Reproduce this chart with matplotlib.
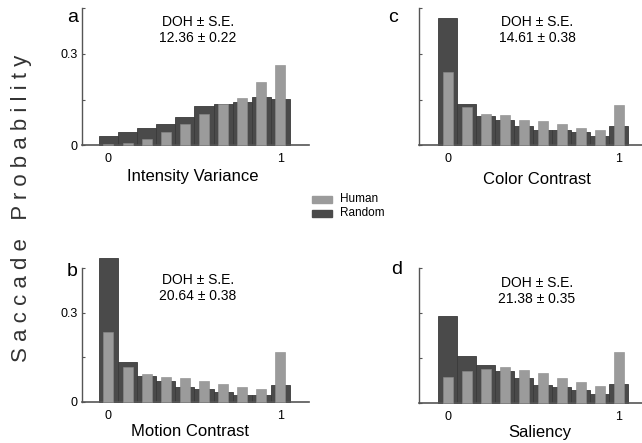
import numpy as np
import matplotlib
matplotlib.use("Agg")
import matplotlib.pyplot as plt

plt.rcParams["font.family"] = ["Liberation Sans", "DejaVu Sans"]

# bin centres (normalised feature value)
bins = np.linspace(0, 1, 10)

# saccade probability per bin, Human vs Random
intensity_human = [0.002, 0.007, 0.021, 0.042, 0.068, 0.103, 0.136, 0.154, 0.207, 0.263]
intensity_random = [0.031, 0.042, 0.056, 0.069, 0.091, 0.127, 0.135, 0.141, 0.158, 0.153]
color_human = [0.242, 0.124, 0.103, 0.099, 0.082, 0.078, 0.069, 0.056, 0.048, 0.133]
color_random = [0.419, 0.135, 0.096, 0.082, 0.064, 0.051, 0.048, 0.042, 0.030, 0.064]
motion_human = [0.236, 0.119, 0.095, 0.084, 0.079, 0.069, 0.059, 0.050, 0.043, 0.168]
motion_random = [0.482, 0.136, 0.088, 0.071, 0.052, 0.043, 0.032, 0.023, 0.023, 0.058]
saliency_human = [0.087, 0.106, 0.114, 0.120, 0.111, 0.100, 0.083, 0.070, 0.058, 0.169]
saliency_random = [0.289, 0.156, 0.128, 0.107, 0.084, 0.061, 0.053, 0.042, 0.031, 0.064]

panel_letters = ["a", "c", "b", "d"]
panel_xlabels = ["Intensity Variance", "Color Contrast", "Motion Contrast", "Saliency"]
panel_doh = ["12.36 \u00b1 0.22", "14.61 \u00b1 0.38", "20.64 \u00b1 0.38", "21.38 \u00b1 0.35"]

HUMAN = "#9b9b9b"
RANDOM = "#4a4a4a"

W, H = 642, 443
fig = plt.figure(figsize=(W / 100, H / 100), dpi=100)


def px(x, y):
    return x / W, 1 - y / H


def panel(rect, human, random, xlim, show_ylab):
    left, top, right, base = rect
    ax = fig.add_axes([left / W, 1 - base / H, (right - left) / W, (base - top) / H])
    ax.bar(bins, random, width=1 / 9, color=RANDOM, edgecolor="#3a3a3a",
           linewidth=0.6, clip_on=False, zorder=2)
    ax.bar(bins, human, width=0.058, color=HUMAN, edgecolor="#8a8a8a",
           linewidth=0.4, clip_on=False, zorder=3)
    ax.set_xlim(*xlim)
    ax.set_ylim(0, 0.45)
    for s in ("top", "right"):
        ax.spines[s].set_visible(False)
    ax.spines["left"].set_color("#555555")
    ax.spines["bottom"].set_color("#555555")
    ax.spines["left"].set_linewidth(1.0)
    ax.spines["bottom"].set_linewidth(1.2)
    ax.set_xticks([0, 1])
    ax.set_xticklabels(["0", "1"], fontsize=9)
    ax.tick_params(axis="x", length=0, pad=6)
    ax.set_yticks([0, 0.15, 0.3, 0.45])
    if show_ylab:
        ax.set_yticklabels(["0", "", "0.3", ""], fontsize=9)
    else:
        ax.set_yticklabels([])
    ax.tick_params(axis="y", direction="in", length=2.5, width=0.8,
                   color="#555555", pad=3)
    return ax


panel((82, 8.5, 309, 145), intensity_human, intensity_random, (-0.154, 1.166), True)
panel((419, 8.5, 642, 145), color_human, color_random, (-0.167, 1.137), False)
panel((82, 268, 309, 402), motion_human, motion_random, (-0.154, 1.166), True)
panel((419, 268, 642, 403), saliency_human, saliency_random, (-0.167, 1.137), False)

letter_pos = [(73, 17), (393, 18), (72, 272), (397, 270)]
doh_pos = [(198, 30), (537, 30), (198, 288), (537, 291)]
xlab_pos = [(193, 176), (537, 180), (190, 432), (540, 432)]
for i in range(4):
    fig.text(*px(*letter_pos[i]), panel_letters[i], fontsize=14,
             ha="center", va="center")
    fig.text(*px(*doh_pos[i]), "DOH \u00b1 S.E.\n" + panel_doh[i], fontsize=10,
             ha="center", va="center", linespacing=1.15)
    fig.text(*px(*xlab_pos[i]), panel_xlabels[i], fontsize=12,
             ha="center", va="center")

fig.text(*px(22, 208), " ".join("Saccade") + "   " + " ".join("Probability"),
         rotation=90, fontsize=16, ha="center", va="center", color="#333333")

# legend
fig.patches.append(plt.Rectangle(px(312, 203), 20 / W, 7 / H, color=HUMAN,
                                 transform=fig.transFigure))
fig.patches.append(plt.Rectangle(px(312, 217), 20 / W, 7 / H, color=RANDOM,
                                 transform=fig.transFigure))
fig.text(*px(340, 199), "Human", fontsize=8.5, va="center")
fig.text(*px(340, 213), "Random", fontsize=8.5, va="center")

fig.savefig("out.png", dpi=100)
